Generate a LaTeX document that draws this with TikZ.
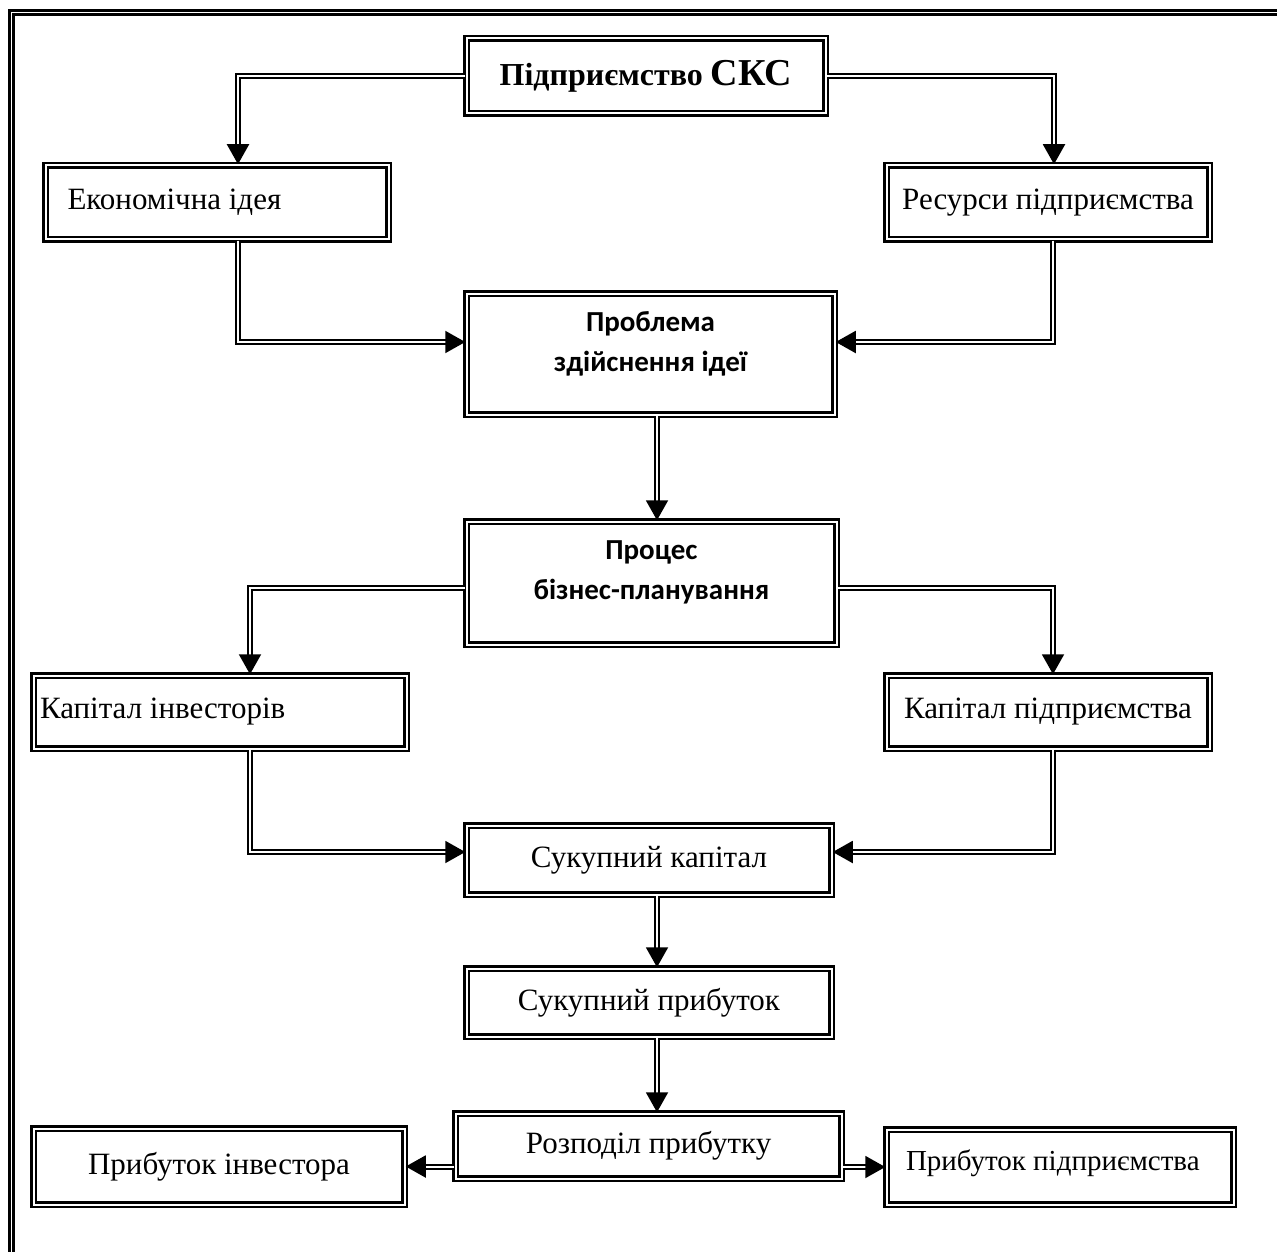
\documentclass[tikz,border=0pt]{standalone}
\usepackage{fontspec}
\setmainfont{Liberation Serif}
\newfontfamily\calibrifont{Carlito}
\usetikzlibrary{arrows.meta}
\usetikzlibrary{calc}

\tikzset{
  box/.style={draw, double, line width=2.5pt, double distance=2pt, inner sep=0pt, font=\fontsize{31}{37}\selectfont},
  boldbox/.style={box, align=center, font=\calibrifont\bfseries\fontsize{29}{40}\selectfont},
  link/.style={double, line width=2pt, double distance=2pt, -{Triangle[length=20pt,width=22pt]}},
  frame/.style={double, line width=2.8pt, double distance=1.6pt},
}

\begin{document}
\begin{tikzpicture}[x=1pt,y=1pt,yscale=-1]
\useasboundingbox (0,0) rectangle (1277,1252);

%Outer frame
\begin{scope}
\clip (0,0) rectangle (1277,1252);
\draw[frame] (1300,12.5) -- (11.5,12.5) -- (11.5,1270);
\end{scope}

% Boxes
\node[box, minimum width=359pt, minimum height=75pt, font=\bfseries\fontsize{32}{38}\selectfont] (firm) at (646,76) {Підприємство {\fontsize{38}{44}\selectfont СКС}};
\node[box, minimum width=343pt, minimum height=74pt] (idea) at (217,202.5) {\makebox[299pt][l]{Економічна ідея}};
\node[box, minimum width=323pt, minimum height=74pt] (res) at (1048,202.5) {Ресурси підприємства};
\node[boldbox, minimum width=368pt, minimum height=121pt, text depth=24pt] (problem) at (650.5,354) {Проблема\\здійснення ідеї};
\node[boldbox, minimum width=370pt, minimum height=123pt, text depth=26pt] (proc) at (651.5,583) {Процес\\бізнес-планування};
\node[box, minimum width=373pt, minimum height=73pt] (kinv) at (220,712) {\makebox[360pt][l]{Капітал інвесторів}};
\node[box, minimum width=323pt, minimum height=73pt] (kfirm) at (1048,712) {Капітал підприємства};
\node[box, minimum width=365pt, minimum height=69pt] (total) at (649,860) {Сукупний капітал};
\node[box, minimum width=365pt, minimum height=68pt] (profit) at (649,1002.5) {Сукупний прибуток};
\node[box, minimum width=386pt, minimum height=65pt] (split) at (648.5,1146) {Розподіл прибутку};
\node[box, minimum width=371pt, minimum height=76pt] (pinv) at (219,1166.5) {Прибуток інвестора};
\node[box, minimum width=347pt, minimum height=75pt, text depth=14pt, font=\fontsize{29}{34}\selectfont] (pfirm) at (1060,1167) {\makebox[308pt][l]{Прибуток підприємства}};

% Connectors
\draw[link] (firm.west) -| ($(idea.north)+(21,0)$);
\draw[link] (firm.east) -| ($(res.north)+(6,0)$);
\draw[link] ($(idea.south)+(21,0)$) |- ($(problem.west)+(0,-12)$);
\draw[link] ($(res.south)+(5,0)$) |- ($(problem.east)+(0,-12)$);
\draw[link] ($(problem.south)+(6.5,0)$) -- ($(proc.north)+(5.5,0)$);
\draw[link] ($(proc.west)+(0,5)$) -| ($(kinv.north)+(30,0)$);
\draw[link] ($(proc.east)+(0,5)$) -| ($(kfirm.north)+(5,0)$);
\draw[link] ($(kinv.south)+(30,0)$) |- ($(total.west)+(0,-8)$);
\draw[link] ($(kfirm.south)+(5,0)$) |- ($(total.east)+(0,-8)$);
\draw[link] ($(total.south)+(8,0)$) -- ($(profit.north)+(8,0)$);
\draw[link] ($(profit.south)+(8,0)$) -- ($(split.north)+(8.5,0)$);
\draw[link] (split.west |- pinv.east) -- (pinv.east);
\draw[link] (split.east |- pfirm.west) -- (pfirm.west);

\end{tikzpicture}
\end{document}
